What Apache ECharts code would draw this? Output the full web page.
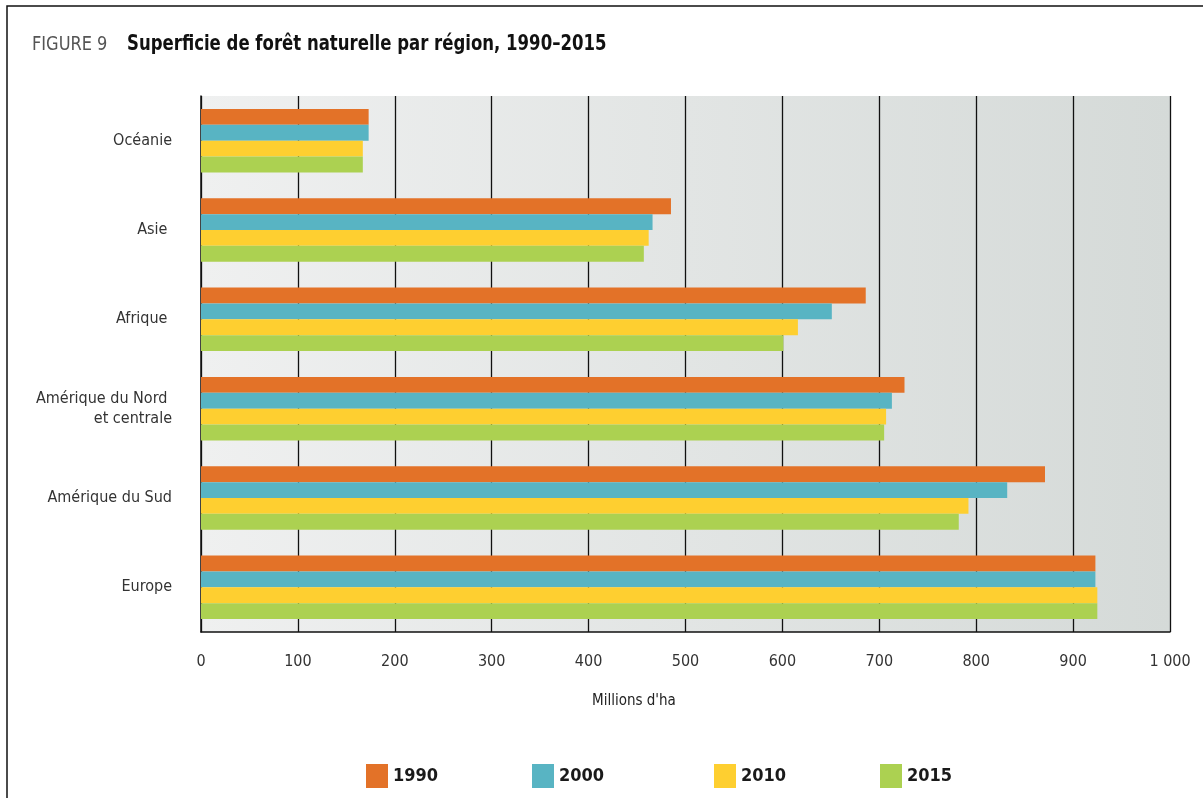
<!DOCTYPE html>
<html>
<head>
<meta charset="utf-8">
<script src="https://cdn.jsdelivr.net/npm/echarts@6/dist/echarts.min.js"></script>
<style>
html,body{margin:0;padding:0;background:#fff;}
#chart{width:1203px;height:798px;}
</style>
</head>
<body>
<div id="chart"></div>
<script>
const categories = ['Océanie', 'Asie ', 'Afrique ', 'Amérique du Nord \net centrale', 'Amérique du Sud', 'Europe'];
const seriesNames = ['1990', '2000', '2010', '2015'];
const values1990 = [173, 485, 686, 726, 871, 923];
const values2000 = [173, 466, 651, 713, 832, 923];
const values2010 = [167, 462, 616, 707, 792, 925];
const values2015 = [167, 457, 601, 705, 782, 925];
const xTicks = [0, 100, 200, 300, 400, 500, 600, 700, 800, 900, 1000];
const colors = ['#e37228', '#58b4c3', '#fecf30', '#acd151'];

const allValues = [values1990, values2000, values2010, values2015];
const legendLeft = [366, 532, 714, 880];
const FONT = "'Liberation Sans Narrow', 'DejaVu Sans Condensed', 'Roboto', sans-serif";

const chart = echarts.init(document.getElementById('chart'));
chart.setOption({
  animation: false,
  backgroundColor: '#ffffff',
  textStyle: { fontFamily: FONT },
  grid: {
    left: 201, right: 33, top: 96, bottom: 166,
    show: true,
    borderWidth: 0,
    backgroundColor: new echarts.graphic.LinearGradient(0, 0, 1, 0, [
      { offset: 0, color: '#eff0f0' },
      { offset: 1, color: '#d5dad8' }
    ])
  },
  legend: seriesNames.map(function (name, i) {
    return {
      data: [name],
      left: legendLeft[i],
      top: 764,
      padding: 0,
      itemWidth: 22,
      itemHeight: 24,
      icon: 'rect',
      textStyle: { fontFamily: FONT, fontSize: 18, fontWeight: 'bold', color: '#1a1a1a' }
    };
  }),
  xAxis: {
    type: 'value',
    min: 0,
    max: 1000,
    interval: 100,
    axisLine: { show: true, lineStyle: { color: '#111', width: 1.5 } },
    axisTick: { show: false },
    splitLine: { show: true, lineStyle: { color: '#111', width: 1.3 } },
    axisLabel: {
      margin: 22,
      fontSize: 16,
      color: '#333',
      fontFamily: FONT,
      formatter: function (v) {
        return xTicks.indexOf(v) >= 0 ? (v >= 1000 ? String(v).replace(/\B(?=(\d{3})+(?!\d))/g, ' ') : String(v)) : '';
      }
    }
  },
  yAxis: {
    type: 'category',
    data: categories,
    inverse: true,
    axisLine: { show: true, lineStyle: { color: '#111', width: 1.5 } },
    axisTick: { show: false },
    axisLabel: { margin: 29, fontSize: 16, color: '#333', fontFamily: FONT, lineHeight: 20 }
  },
  graphic: [
    {
      type: 'rect',
      shape: { x: 7, y: 6, width: 1220, height: 830 },
      style: { fill: 'none', stroke: '#111', lineWidth: 1.5 },
      silent: true
    },
    {
      type: 'text',
      x: 32, y: 35,
      scaleX: 0.9,
      style: { text: 'FIGURE 9', font: "20px " + FONT, fill: '#555' }
    },
    {
      type: 'text',
      x: 127, y: 34,
      scaleX: 0.875,
      style: { text: 'Superficie de forêt naturelle par région, 1990–2015', font: "bold 21px " + FONT, fill: '#111' }
    },
    {
      type: 'text',
      left: 592, top: 694,
      style: { text: "Millions d'ha", font: "15px " + FONT, fill: '#222' }
    }
  ],
  series: seriesNames.map(function (name, i) {
    return {
      name: name,
      type: 'bar',
      data: allValues[i],
      barGap: '0%',
      barCategoryGap: '29%',
      itemStyle: { color: colors[i] }
    };
  })
});
</script>
</body>
</html>
